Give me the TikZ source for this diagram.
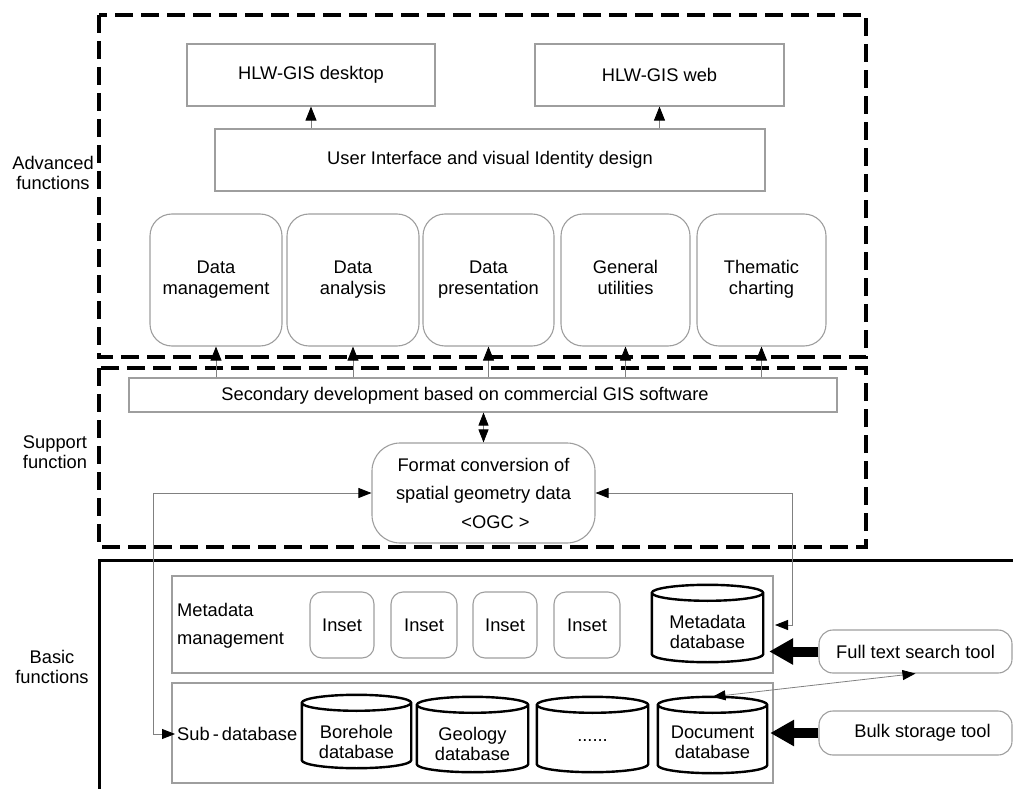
\documentclass[tikz,border=0pt]{standalone}
\usepackage{fontspec}
\setmainfont{Liberation Sans}
\usetikzlibrary{arrows.meta,calc}
\definecolor{boxgray}{gray}{0.62}
\definecolor{linegray}{gray}{0.5}
\newcommand\cylout[1]{%
  \draw[dbline] let \p1=(#1.north west), \p2=(#1.south east), \n1={(\x2-\x1)/2} in
    (\x1,\y1-8pt) -- (\x1,\y2+8pt) arc[start angle=180,end angle=360,x radius={\n1*1pt},y radius=8pt]
    -- (\x2,\y1-8pt) arc[start angle=0,end angle=180,x radius={\n1*1pt},y radius=8pt] -- cycle
    (\x1,\y1-8pt) arc[start angle=180,end angle=360,x radius={\n1*1pt},y radius=8pt];}
\begin{document}
\begin{tikzpicture}[x=1pt,y=1pt,
  font=\fontsize{18.3}{20.5}\selectfont,
  gbox/.style={draw=boxgray, line width=1.1pt, inner sep=0pt, align=center},
  rbox/.style={gbox, rounded corners=22pt, minimum height=132pt, font=\fontsize{18.3}{21}\selectfont},
  ibox/.style={gbox, rounded corners=12pt, minimum height=66pt},
  tbox/.style={gbox, rounded corners=14pt, minimum width=193pt},
  dbnode/.style={inner sep=0pt},
  dbline/.style={draw=black, line width=2.4pt},
  dbtext/.style={align=center, inner sep=0pt, font=\fontsize{18.3}{20}\selectfont},
  lab/.style={align=center, inner sep=0pt},
  dashbox/.style={draw=black, line width=4pt, dash pattern=on 18pt off 8pt},
  conn/.style={draw=linegray, line width=0.8pt, -{Triangle[length=14pt,width=11pt,black]}},
  dconn/.style={draw=linegray, line width=0.8pt, {Triangle[length=13pt,width=10pt,black]}-{Triangle[length=13pt,width=10pt,black]}},
  bigarrow/.style={draw=black, line width=10pt, -{Triangle[length=24pt,width=25pt]}}
]
\useasboundingbox (0,0) rectangle (1013,-789);

% frames
\draw[dashbox] (99,-15) rectangle (866,-357);
\draw[dashbox] (99,-368) rectangle (866,-547);
\draw[line width=3pt] (1020,-560) -- (99,-560) -- (99,-795);

% side labels
\node[lab] (adv) at (53,-173) {Advanced\\functions};
\node[lab] (sup) at (55,-452) {Support\\function};
\node[lab] (bas) at (52,-667) {Basic\\functions};

% advanced
\node[gbox, minimum width=248pt, minimum height=62pt] (desk) at (311,-75) {HLW-GIS desktop};
\node[gbox, minimum width=249pt, minimum height=62pt] (web) at (659.5,-75) {HLW-GIS web};
\node[gbox, minimum width=550pt, minimum height=62pt] (ui) at (490,-160) {User Interface and visual Identity design};

\node[rbox, minimum width=132pt] (r1) at (216,-280) {\strut Data\\management\strut};
\node[rbox, minimum width=132pt] (r2) at (353,-280) {\strut Data\\analysis\strut};
\node[rbox, minimum width=131pt] (r3) at (488.5,-280) {\strut Data\\presentation\strut};
\node[rbox, minimum width=129pt] (r4) at (625.5,-280) {\strut General\\utilities\strut};
\node[rbox, minimum width=129pt] (r5) at (761.5,-280) {\strut Thematic\\charting\strut};

% support
\node[gbox, minimum width=708pt, minimum height=34pt] (sec) at (483,-395) {};
\node[lab] (sect) at (465,-396) {Secondary development based on commercial GIS software};
\node[gbox, rounded corners=28pt, minimum width=223pt, minimum height=100pt,
      font=\fontsize{18.3}{28.5}\selectfont] (fmt) at (483.5,-493) {Format conversion of\\spatial geometry data\\\hspace*{24pt}<OGC >};

% basic
\node[gbox, minimum width=601pt, minimum height=97pt] (mm) at (472.5,-624.5) {};
\node[gbox, minimum width=601pt, minimum height=100pt] (sd) at (472.5,-733) {};
\node[align=left, inner sep=0pt, anchor=west, font=\fontsize{18.3}{28}\selectfont] (mmt) at (177,-626) {Metadata\\management};
\node[ibox, minimum width=64pt] (in1) at (342,-625) {Inset};
\node[ibox, minimum width=66pt] (in2) at (424,-625) {Inset};
\node[ibox, minimum width=64pt] (in3) at (505,-625) {Inset};
\node[ibox, minimum width=66pt] (in4) at (587,-625) {Inset};

\node[dbnode, minimum width=111pt, minimum height=77pt] (mdb) at (707.5,-623.5) {};
\node[dbnode, minimum width=109pt, minimum height=73pt] (bore) at (356.5,-731.5) {};
\node[dbnode, minimum width=111pt, minimum height=75pt] (geo) at (472.5,-734.5) {};
\node[dbnode, minimum width=111pt, minimum height=75pt] (dots) at (592.5,-734.5) {};
\node[dbnode, minimum width=109pt, minimum height=76pt] (doc) at (712.5,-735) {};
\cylout{mdb}\cylout{bore}\cylout{geo}\cylout{dots}\cylout{doc}
\node[dbtext] (mdbt) at ([yshift=-8pt]mdb.center) {Metadata\\database};
\node[dbtext] (boret) at ([yshift=-10pt]bore.center) {Borehole\\database};
\node[dbtext] (geot) at ([yshift=-9pt]geo.center) {Geology\\database};
\node[dbtext] (dotst) at ([yshift=-6pt]dots.center) {......};
\node[dbtext] (doct) at ([yshift=-7pt]doc.center) {Document\\database};

\node[anchor=west, inner sep=2pt] (sdl) at (175,-734) {Sub\,-\,database};

\node[tbox, minimum height=43pt] (fts) at (915.5,-651.5) {Full text search tool};
\node[tbox, minimum height=44pt] (bst) at (915.5,-733) {\hspace*{14pt}Bulk storage tool};

% connectors
\draw[conn] (ui.north -| desk.south) -- (desk.south);
\draw[conn] (ui.north -| web.south) -- (web.south);
\foreach \r in {r1,r2,r3,r4,r5} {\draw[conn] (sec.north -| \r.south) -- (\r.south);}
\draw[dconn] (sec.south -| fmt.north) -- (fmt.north);

\coordinate (lx) at (153,0);
\coordinate (rx) at (792,0);
\coordinate (mtip) at (775,-625);
\draw[dconn] (fmt.west) -| (lx |- sdl.west) -- (sdl.west);
\draw[dconn] (fmt.east) -| (rx |- mtip) -- (mtip);

\draw[bigarrow] (fts.west) -- ([xshift=6pt]fts.west -| mdb.east);
\draw[bigarrow] (bst.west) -- ([xshift=3pt]bst.west -| doc.east);
\draw[dconn] (doc.north) -- (fts.south);
\end{tikzpicture}
\end{document}
